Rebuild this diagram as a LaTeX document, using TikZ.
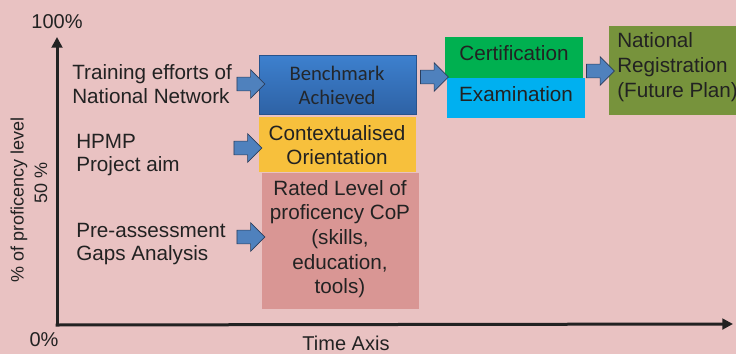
\documentclass[tikz,border=0pt]{standalone}
\usepackage{fontspec}
\setmainfont{Liberation Sans}
\newfontfamily\calib{Carlito}
\usetikzlibrary{shapes.arrows,arrows.meta}
\definecolor{bg}{HTML}{E9C2C2}
\definecolor{txt}{HTML}{222222}
\definecolor{arrblue}{HTML}{4F81BD}
\definecolor{arredge}{HTML}{2C3E5C}
\definecolor{bmtop}{HTML}{3D80CE}
\definecolor{bmbot}{HTML}{2E62A5}
\definecolor{ctxyel}{HTML}{F7C03C}
\definecolor{ratpink}{HTML}{D99694}
\definecolor{certgreen}{HTML}{00B050}
\definecolor{examcyan}{HTML}{00B0F0}
\definecolor{natolive}{HTML}{77933C}
\tikzset{
  lbl/.style={inner sep=0, text=txt, align=left, font=\fontsize{15.5}{17.5}\selectfont},
  boxtxt/.style={inner sep=0, text=txt, align=center, font=\fontsize{15.5}{18.5}\selectfont},
  stage/.style={inner sep=0, draw=none, anchor=north west},
  barrow/.style={single arrow, draw=arredge, line width=0.5pt, fill=arrblue, inner xsep=0pt, inner ysep=4.9pt,
     minimum height=21pt, single arrow head extend=5.6pt},
  axis/.style={line width=2.25pt, draw=txt, -{Triangle[length=8pt,width=8pt]}},
  axtxt/.style={inner sep=0, text=txt, font=\fontsize{15}{17}\selectfont}
}
\begin{document}
\begin{tikzpicture}[x=0.75pt,y=-0.75pt]
\fill[bg] (0,0) rectangle (736,354);
\useasboundingbox (0,0) rectangle (736,354);
% axes
\coordinate (origin) at (57,325);
\coordinate (ytop) at (57,37);
\coordinate (xend) at (733,324);
\draw[axis] (origin) -- (ytop);
\draw[axis] ([xshift=-1.1pt]origin) -- (xend);
\node[axtxt] (p100) at (57,22) {100\%};
\node[axtxt] (p0) at (44,340) {0\%};
\node[axtxt] (time) at (346,343) {Time Axis};
\node[axtxt, rotate=90, font=\fontsize{13.5}{15}\selectfont] (ylab) at (19,200) {\% of proficency level};
\node[axtxt, rotate=90, font=\fontsize{13.5}{15}\selectfont] (p50) at (41,183) {50 \%};
% stage boxes
\node[stage, minimum width=117.75pt, minimum height=44.25pt, top color=bmtop, bottom color=bmbot, draw=bmbot!85!black, line width=0.4pt] (bench) at (259,55) {};
\node[inner sep=0, text=txt!92!bmbot, align=center, font=\calib\fontsize{15.5}{18}\selectfont] (benchtxt) at (337,85) {Benchmark\\Achieved};
\node[stage, minimum width=117.75pt, minimum height=41.25pt, fill=ctxyel] (ctx) at (259,117) {};
\node[boxtxt] (ctxtxt) at (337,145) {Contextualised\\Orientation};
\node[stage, minimum width=117.75pt, minimum height=102pt, fill=ratpink] (rated) at (262,173) {};
\node[boxtxt] (ratedtxt) at (340,239) {Rated Level of\\proficency CoP\\(skills,\\education,\\tools)};
\node[stage, minimum width=103.5pt, minimum height=30.75pt, fill=certgreen] (cert) at (445,37) {};
\node[boxtxt] (certtxt) at (514,53) {Certification};
\node[stage, minimum width=103.5pt, minimum height=30pt, fill=examcyan] (exam) at (447,78) {};
\node[boxtxt] (examtxt) at (516,94) {Examination};
\node[stage, minimum width=100pt, minimum height=66.75pt, fill=natolive] (nat) at (609,26) {};
\node[lbl, anchor=west, font=\fontsize{15.5}{18.75}\selectfont] (nattxt) at (617,67) {National\\Registration\\(Future Plan)};
% left labels
\node[lbl, anchor=west] (train) at (72,84) {Training efforts of\\National Network};
\node[lbl, anchor=west] (hpmp) at (76,155) {HPMP\\Project aim};
\node[lbl, anchor=west] (pre) at (76,244) {Pre-assessment\\Gaps Analysis};
% block arrows
\node[barrow] (a1) at (247.5,84) {};
\node[barrow] (a2) at (431,77) {};
\node[barrow] (a3) at (597,71) {};
\node[barrow] (a4) at (244.5,148) {};
\node[barrow] (a5) at (247.5,237) {};
\end{tikzpicture}
\end{document}
